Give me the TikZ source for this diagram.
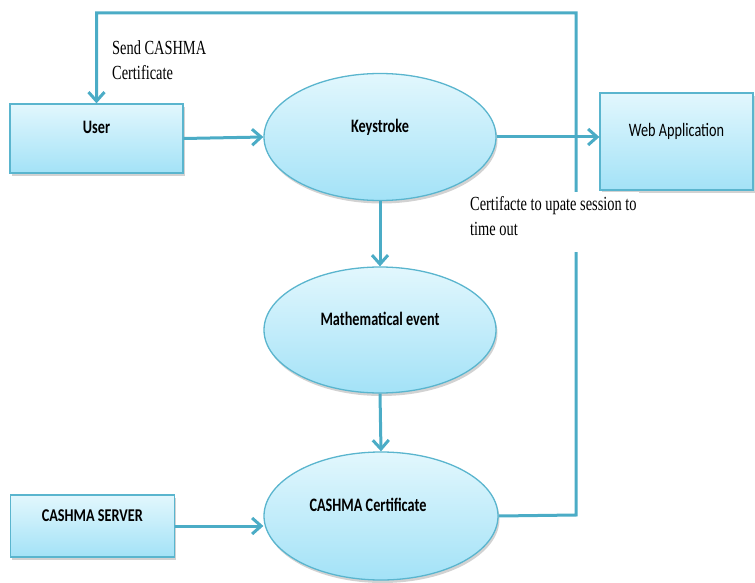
\documentclass[tikz,border=0pt]{standalone}
\usepackage{fontspec}
\usetikzlibrary{shapes.geometric,arrows.meta,shadows}

% narrow faces for the box captions and the flow notes
\newfontfamily\boxfont{Carlito}[FakeStretch=0.75]
\newfontfamily\widebox{Carlito}[FakeStretch=0.79]
\newfontfamily\notefont{Liberation Serif}[FakeStretch=0.72]

\definecolor{flowline}{HTML}{4BACC6}
\definecolor{shapeedge}{HTML}{5AB5CE}
\definecolor{fillTop}{HTML}{E2F7FD}
\definecolor{fillBot}{HTML}{A3E2F7}

\tikzset{
  basebox/.style={draw=shapeedge, line width=1.3pt,
    top color=fillTop, bottom color=fillBot, inner sep=0pt,
    font=\boxfont\fontsize{19}{23}\selectfont\bfseries,
    text height=12pt, text depth=22pt,
    drop shadow={shadow xshift=1.5pt, shadow yshift=-3pt, opacity=0.25, fill=black!70}},
  entity/.style={basebox, rectangle},
  process/.style={basebox, ellipse},
  flow/.style={draw=flowline, line width=3pt,
    -{Straight Barb[length=9pt,width=16pt]}},
  note/.style={font=\notefont\fontsize{20}{25}\selectfont, align=left, inner sep=2pt},
}

\begin{document}
\begin{tikzpicture}[x=1pt, y=-1pt]
  \useasboundingbox (0,0) rectangle (755,583);

  % external entities
  \node[entity, minimum width=173pt, minimum height=69pt] (user) at (96.5,138.5) {User};
  \node[entity, minimum width=153pt, minimum height=97pt,
        font=\boxfont\fontsize{19}{23}\selectfont] (web) at (676.5,141.5) {Web Application};
  \node[entity, minimum width=164pt, minimum height=62pt,
        font=\widebox\fontsize{18}{22}\selectfont\bfseries] (server) at (92.3,526) {CASHMA SERVER};

  % processes
  \node[process, minimum width=232pt, minimum height=127pt] (ks) at (380,137) {Keystroke};
  \node[process, minimum width=232pt, minimum height=126pt] (me) at (380,330) {Mathematical event};
  \node[process, minimum width=234pt, minimum height=128pt] (cert) at (381,516)
        {\hspace*{-26pt}CASHMA Certificate};

  % main flows
  \draw[flow] (user.east) -- (ks.west);
  \draw[flow] (ks.east) -- (ks.east -| web.west);
  \draw[flow] (ks.south) -- (me.north);
  \draw[flow] (me.south) -- (cert.north);
  \draw[flow] (server.east) -- (server.east -| cert.west);

  % certificate returned to the user
  \coordinate (turnA) at (576,515);
  \coordinate (turnB) at (576,13);
  \draw[flow] (cert.east) -- (turnA) -- (turnB) -| (user.north);

  % notes on the flows
  \node[note, anchor=north west] (sendlbl) at (110,38) {Send CASHMA\\Certificate};
  \node[note, anchor=north west, fill=white] (timelbl) at (468,192)
        {\rule{0pt}{16pt}Certifacte to upate session to\\time out\rule[-15pt]{0pt}{0pt}};
\end{tikzpicture}
\end{document}
